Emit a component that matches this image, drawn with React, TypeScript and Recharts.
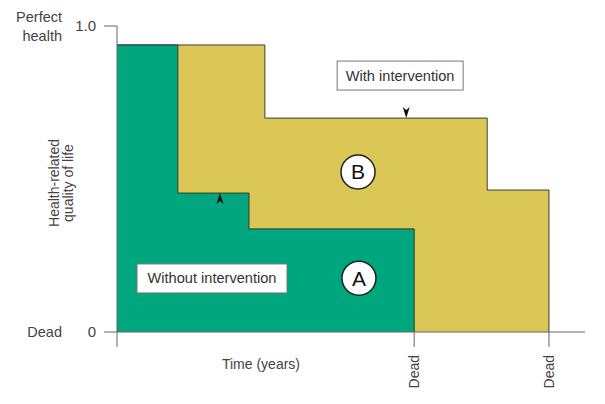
import {
  Area,
  ComposedChart,
  ReferenceDot,
  XAxis,
  YAxis,
} from "recharts";

// time in years, quality of life 0..1
const withoutTimes = [0, 1.3, 2.82, 6.35, 6.35];
const withoutQol = [0.938, 0.454, 0.337, 0.337, 0];
const withTimes = [0, 3.16, 7.91, 9.23, 9.23];
const withQol = [0.938, 0.699, 0.464, 0.464, 0];

const deathTicks = [0, 6.35, 9.23];
const qolTicks = [0, 1];
const qolSideLabels: Record<number, string[]> = { 1: ["Perfect", "health"], 0: ["Dead"] };

const boxes = [
  { label: "With intervention", t: 6.05, q: 0.838, w: 126 },
  { label: "Without intervention", t: 2.03, q: 0.175, w: 150 },
];
const circles = [
  { label: "A", t: 5.17, q: 0.176 },
  { label: "B", t: 5.15, q: 0.523 },
];
const arrows = [
  { dir: "up", t: 2.2, q: 0.454 },
  { dir: "down", t: 6.18, q: 0.699 },
];

const rows = [
  ...withoutTimes.map((t, i) => ({ t, without: withoutQol[i] })),
  ...withTimes.map((t, i) => ({ t, with: withQol[i] })),
].sort((a, b) => a.t - b.t);

const FONT = "'Liberation Sans', Arial, sans-serif";
const TEXT = "#444";
const AXIS = "#666";

function QolTick({ x, y, payload }: any) {
  const side = qolSideLabels[payload.value] || [];
  const top = y + 5 - ((side.length - 1) * 19) / 2;
  return (
    <g fontFamily={FONT} fill={TEXT}>
      <text x={x} y={y + 5} textAnchor="end" fontSize={15}>
        {payload.value === 1 ? "1.0" : "0"}
      </text>
      {side.map((s, i) => (
        <text key={s} x={x - 34} y={top + i * 19} textAnchor="end" fontSize={14.5}>
          {s}
        </text>
      ))}
    </g>
  );
}

function TimeTick({ x, y, payload }: any) {
  if (payload.value === 0) return null;
  return (
    <text
      x={x + 5}
      y={y + 6}
      transform={`rotate(-90, ${x + 5}, ${y + 6})`}
      textAnchor="end"
      fontSize={14}
      fontFamily={FONT}
      fill={TEXT}
    >
      Dead
    </text>
  );
}

function YTitle({ viewBox }: any) {
  const cx = viewBox.x + 59;
  const cy = viewBox.y + viewBox.height / 2 + 4;
  return (
    <text
      x={cx}
      y={cy}
      transform={`rotate(-90, ${cx}, ${cy})`}
      textAnchor="middle"
      fontSize={14}
      fontFamily={FONT}
      fill={TEXT}
    >
      <tspan x={cx} dy={0}>Health-related</tspan>
      <tspan x={cx} dy={14}>quality of life</tspan>
    </text>
  );
}

function XTitle({ viewBox }: any) {
  return (
    <text
      x={viewBox.x + 144}
      y={viewBox.y + 37}
      textAnchor="middle"
      fontSize={14}
      fontFamily={FONT}
      fill={TEXT}
    >
      Time (years)
    </text>
  );
}

export default function App() {
  return (
    <div style={{ margin: -8, background: "#fff" }}>
      <ComposedChart
        width={605}
        height={404}
        data={rows}
        margin={{ top: 26, right: 20, left: 0, bottom: 0 }}
      >
        <XAxis
          dataKey="t"
          type="number"
          domain={[0, 10]}
          ticks={deathTicks}
          tick={<TimeTick />}
          tickSize={15}
          height={72}
          axisLine={{ stroke: AXIS }}
          tickLine={{ stroke: AXIS }}
          label={<XTitle />}
        />
        <YAxis
          type="number"
          domain={[0, 1]}
          ticks={qolTicks}
          tick={<QolTick />}
          tickSize={13}
          tickMargin={8}
          width={117}
          axisLine={{ stroke: AXIS }}
          tickLine={{ stroke: AXIS }}
          label={<YTitle />}
        />
        <Area
          dataKey="with"
          type="stepAfter"
          fill="#dbc755"
          fillOpacity={1}
          stroke="#3d3d33"
          strokeWidth={1}
          connectNulls
          isAnimationActive={false}
        />
        <Area
          dataKey="without"
          type="stepAfter"
          fill="#00a67e"
          fillOpacity={1}
          stroke="#2f3b33"
          strokeWidth={1}
          connectNulls
          isAnimationActive={false}
        />
        {boxes.map((b) => (
          <ReferenceDot
            key={b.label}
            x={b.t}
            y={b.q}
            r={1}
            shape={({ cx, cy }: any) => (
              <g>
                <rect x={cx - b.w / 2} y={cy - 14.5} width={b.w} height={29} fill="#fff" stroke="#777" />
                <text x={cx} y={cy + 5} textAnchor="middle" fontSize={14.6} fontFamily={FONT} fill="#333">
                  {b.label}
                </text>
              </g>
            )}
          />
        ))}
        {circles.map((c) => (
          <ReferenceDot
            key={c.label}
            x={c.t}
            y={c.q}
            r={17}
            shape={({ cx, cy }: any) => (
              <g>
                <circle cx={cx} cy={cy} r={17} fill="#fff" stroke="#222" strokeWidth={1.5} />
                <text x={cx} y={cy + 7.5} textAnchor="middle" fontSize={21} fontFamily={FONT} fill="#111">
                  {c.label}
                </text>
              </g>
            )}
          />
        ))}
        {arrows.map((a) => (
          <ReferenceDot
            key={a.dir}
            x={a.t}
            y={a.q}
            r={1}
            shape={({ cx, cy }: any) => {
              const s = a.dir === "up" ? 1 : -1;
              return (
                <path
                  d={`M${cx},${cy} L${cx + 3.5},${cy + 11 * s} L${cx},${cy + 8 * s} L${cx - 3.5},${cy + 11 * s} Z`}
                  fill="#111"
                />
              );
            }}
          />
        ))}
      </ComposedChart>
    </div>
  );
}
